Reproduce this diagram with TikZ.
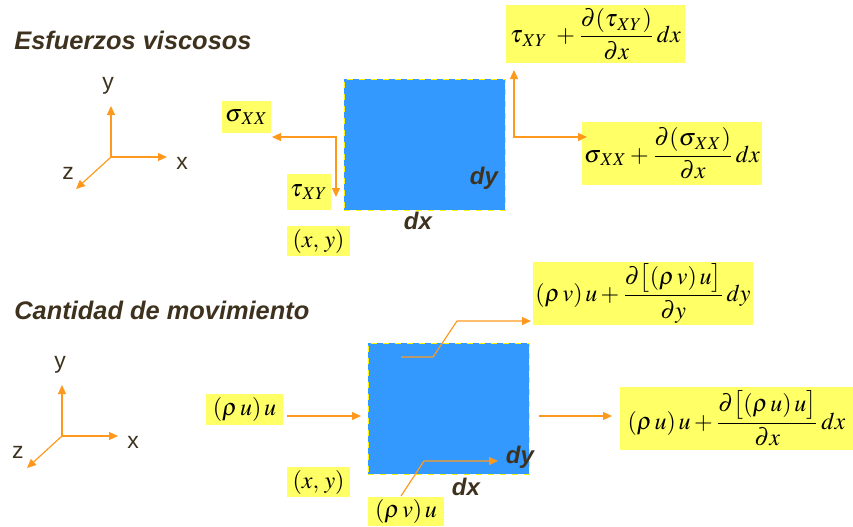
\documentclass[tikz,border=0pt]{standalone}
\usepackage{amsmath}
\usepackage{mathptmx}
\usepackage[no-math]{fontspec}
\setsansfont{Liberation Sans}
\usepackage{tikz}
\usetikzlibrary{arrows.meta,positioning}

\definecolor{fluxorange}{RGB}{255,153,30}
\definecolor{labelyellow}{RGB}{255,255,102}
\definecolor{cellblue}{RGB}{51,153,255}
\definecolor{titlebrown}{RGB}{62,50,30}

\begin{document}
\begin{tikzpicture}[
x=0.5pt,y=-0.5pt,
ybox/.style={fill=labelyellow,inner sep=1pt,font=\fontsize{12}{14}\selectfont},
cell/.style={fill=cellblue,draw=yellow,dashed,line width=0.4pt,minimum width=80.5pt,minimum height=65.5pt,inner sep=0pt},
arrow/.style={-{Triangle[length=4.5pt,width=4pt]},fluxorange,line width=0.6pt},
title/.style={anchor=west,inner sep=0pt,text=titlebrown,font=\sffamily\bfseries\itshape\fontsize{12.7}{15}\selectfont},
axlabel/.style={text=titlebrown,font=\sffamily\fontsize{11.5}{14}\selectfont},
dlabel/.style={text=titlebrown,font=\sffamily\bfseries\itshape\fontsize{12}{14}\selectfont}
]
\useasboundingbox (0,0) rectangle (853,526);

% Esfuerzos viscosos
\node[title] (t1) at (14,40) {Esfuerzos viscosos};
\coordinate (o1) at (111,157);
\coordinate (ya) at (111,106);
\coordinate (xa) at (167,157);
\coordinate (za) at (76,189);
\draw[arrow] (o1) -- (ya);
\draw[arrow] (o1) -- (xa);
\draw[arrow] (o1) -- (za);
\node[axlabel] (ly1) at (108,86) {y};
\node[axlabel] (lx1) at (182,163) {x};
\node[axlabel] (lz1) at (68,173) {z};

\node[cell] (elem1) at (424.5,144.5) {};
\node[dlabel] (dy1) at (484,178) {dy};
\node[dlabel] (dx1) at (418,221) {dx};

\node[ybox,minimum width=24.5pt,minimum height=16pt] (sxx) at (246.5,117) {$\sigma_{\,XX}$};
\node[ybox,minimum width=22pt,minimum height=18pt] (txy) at (309,192) {$\tau_{\,XY}$};
\node[ybox,minimum width=31.5pt,minimum height=15pt] (xy1) at (318.5,241) {$(x,\,y)$};
\node[ybox,minimum width=89.5pt,minimum height=29pt] (txyd) at (595.5,34)
  {$\tau_{\,XY}\;+\dfrac{\partial(\tau_{\,XY})}{\partial x}\,dx$};
\node[ybox,minimum width=85pt,minimum height=31.5pt] (sxxd) at (672,153.5)
  {$\sigma_{\,XX}+\dfrac{\partial(\sigma_{\,XX})}{\partial x}\,dx$};

\coordinate (w1) at (336,137);
\coordinate (w1a) at (272,137);
\coordinate (w1b) at (336,197);
\coordinate (e1) at (514,137);
\coordinate (e1a) at (514,70);
\coordinate (e1b) at (587,137);
\draw[arrow,{Triangle[length=4.5pt,width=4pt]}-{Triangle[length=4.5pt,width=4pt]}] (w1a) -- (w1) -- (w1b);
\draw[arrow,{Triangle[length=4.5pt,width=4pt]}-{Triangle[length=4.5pt,width=4pt]}] (e1a) -- (e1) -- (e1b);

% Cantidad de movimiento
\node[title] (t2) at (14,310) {Cantidad de movimiento};
\coordinate (o2) at (62,436);
\coordinate (yb) at (62,385);
\coordinate (xb) at (118,436);
\coordinate (zb) at (27,468);
\draw[arrow] (o2) -- (yb);
\draw[arrow] (o2) -- (xb);
\draw[arrow] (o2) -- (zb);
\node[axlabel] (ly2) at (60,365) {y};
\node[axlabel] (lx2) at (133,442) {x};
\node[axlabel] (lz2) at (18,452) {z};

\node[cell] (elem2) at (448.5,408.5) {};
\node[dlabel] (dy2) at (520,457) {dy};
\node[dlabel] (dx2) at (466,487) {dx};

\node[ybox,minimum width=38.5pt,minimum height=15.5pt] (ruu) at (244.5,409.5) {$(\rho\, u)\, u$};
\node[ybox,minimum width=31.5pt,minimum height=15pt] (xy2) at (318.5,482) {$(x,\,y)$};
\node[ybox,minimum width=38pt,minimum height=14.5pt] (rvu) at (406,511.5) {$(\rho\, v)\, u$};
\node[ybox,minimum width=105pt,minimum height=31.5pt] (rvud) at (643,293.5)
  {$(\rho\, v)\, u+\dfrac{\partial\bigl[(\rho\, v)\, u\bigr]}{\partial y}\,dy$};
\node[ybox,minimum width=116.5pt,minimum height=31.5pt] (ruud) at (736.5,418.5)
  {$(\rho\, u)\, u+\dfrac{\partial\bigl[(\rho\, u)\, u\bigr]}{\partial x}\,dx$};

\coordinate (in2) at (287,416);
\coordinate (in2b) at (361,416);
\coordinate (out2) at (539,416);
\coordinate (out2b) at (612,416);
\draw[arrow] (in2) -- (in2b);
\draw[arrow] (out2) -- (out2b);
\coordinate (n2) at (401,357);
\draw[arrow] (n2) -- (433,357) -- (457,321) -- (531,321);
\coordinate (s2) at (401,496);
\draw[arrow] (s2) -- (424,461) -- (498,461);
\end{tikzpicture}
\end{document}
